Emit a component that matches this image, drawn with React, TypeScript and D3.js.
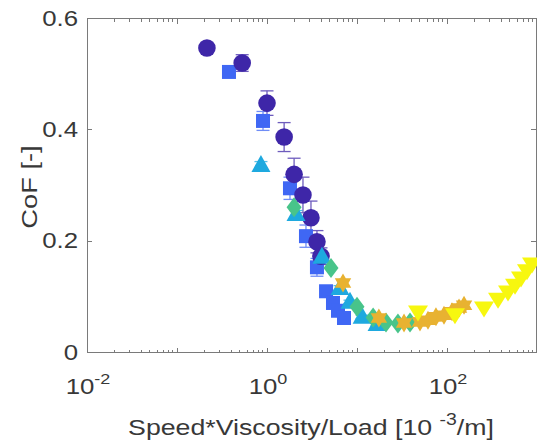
import React from "react";
import * as d3 from "d3";

// ---- data ----
const circleX = [0.215, 0.53, 1.0, 1.55, 2.0, 2.51, 3.08, 3.59, 3.98];
const circleY = [0.547, 0.52, 0.448, 0.387, 0.32, 0.283, 0.242, 0.199, 0.173];
const circleErr = [0, 0.015, 0.022, 0.026, 0.029, 0.032, 0.03, 0.02, 0.015];

const squareX = [0.378, 0.903, 1.8, 2.71, 3.59, 4.53, 5.41, 6.15, 7.17];
const squareY = [0.504, 0.416, 0.295, 0.209, 0.153, 0.11, 0.089, 0.075, 0.062];
const squareErr = [0, 0.017, 0.02, 0.02, 0.016, 0.005, 0.005, 0.004, 0.004];

const triX = [0.857, 2.1, 4.08, 6.47, 8.36, 11.4, 16.7];
const triY = [0.337, 0.249, 0.172, 0.116, 0.091, 0.064, 0.051];
const triErr = [0.006, 0.006, 0.005, 0.004, 0.003, 0.003, 0.002];

const diaX = [2.0, 5.14, 10, 15.1, 21.0, 28.5, 38.8];
const diaY = [0.261, 0.152, 0.082, 0.063, 0.054, 0.052, 0.054];

const hexX = [6.99, 17.5, 33.3, 50.1, 61.5, 75.4, 92.6, 113.6, 136, 154.6];
const hexY = [0.125, 0.062, 0.053, 0.055, 0.058, 0.064, 0.067, 0.073, 0.08, 0.085];

const yelX = [47.6, 122.7, 257.7, 368.7, 476, 570, 664, 774, 880];
const yelY = [0.071, 0.066, 0.078, 0.094, 0.107, 0.119, 0.132, 0.145, 0.157];

const yTicks = [0, 0.2, 0.4, 0.6];
const yTickLabels = ["0", "0.2", "0.4", "0.6"];
const xTicks = [0.01, 1, 100];
const xTickExps = ["-2", "0", "2"];

const xLabelMain = "Speed*Viscosity/Load [10 ";
const xLabelSup = "-3";
const xLabelEnd = "/m]";
const yLabel = "CoF [-]";

// ---- layout ----
const W = 537;
const H = 443;
const L = 87;
const R = 537;
const T = 18.5;
const B = 352.5;

const FONT = "'Liberation Sans', Arial, Helvetica, sans-serif";
const TXT = "#383838";
const AX = "#7a7a7a";
const SX = 1.2; // horizontal stretch of the reference's lettering

const x = d3.scaleLog().domain([0.01, 1000]).range([L, R]);
const y = d3.scaleLinear().domain([0, 0.6]).range([B, T]);

const C_CIRC = "#3E26A8";
const C_SQ = "#3F67F4";
const C_TRI = "#1EA9DF";
const C_DIA = "#48C48A";
const C_HEX = "#E8B231";
const C_YEL = "#F7F70F";

function hexPath(r: number) {
  const pts: string[] = [];
  const ri = r * 0.58;
  for (let i = 0; i < 12; i++) {
    const a = (Math.PI / 6) * i - Math.PI / 2;
    const rr = i % 2 === 0 ? r : ri;
    pts.push(`${(rr * Math.cos(a)).toFixed(2)},${(rr * Math.sin(a)).toFixed(2)}`);
  }
  return "M" + pts.join("L") + "Z";
}

function ErrBars({ xs, ys, es, color }: { xs: number[]; ys: number[]; es: number[]; color: string }) {
  const cap = 6.5;
  return (
    <g stroke={color} strokeWidth={1.3} fill="none" opacity={0.75}>
      {xs.map((xv, i) => {
        if (!es[i]) return null;
        const cx = x(xv);
        const y1 = y(ys[i] + es[i]);
        const y2 = y(ys[i] - es[i]);
        return (
          <g key={i}>
            <line x1={cx} x2={cx} y1={y1} y2={y2} />
            <line x1={cx - cap} x2={cx + cap} y1={y1} y2={y1} />
            <line x1={cx - cap} x2={cx + cap} y1={y2} y2={y2} />
          </g>
        );
      })}
    </g>
  );
}

export default function App() {
  const minorX: number[] = [];
  for (let e = -2; e < 3; e++) {
    for (let k = 2; k <= 9; k++) minorX.push(k * Math.pow(10, e));
  }
  const hex = hexPath(9.5);
  const majLen = 5;
  const minLen = 3;

  return (
    <svg
      width={W}
      height={H}
      style={{ position: "fixed", left: 0, top: 0, background: "#fff" }}
      xmlns="http://www.w3.org/2000/svg"
    >
      <rect x={0} y={0} width={W} height={H} fill="#fff" />

      {/* axes box */}
      <g stroke={AX} strokeWidth={1} fill="none" shapeRendering="crispEdges">
        <line x1={L} x2={R} y1={B} y2={B} />
        <line x1={L} x2={R} y1={T} y2={T} />
        <line x1={L} x2={L} y1={T} y2={B} />
        <line x1={R - 1} x2={R - 1} y1={T} y2={B} />
        {yTicks.map((t, i) => (
          <g key={"yt" + i}>
            <line x1={L} x2={L + majLen} y1={y(t)} y2={y(t)} />
            <line x1={R - 1} x2={R - 1 - majLen} y1={y(t)} y2={y(t)} />
          </g>
        ))}
        {[0.01, 0.1, 1, 10, 100, 1000].map((t, i) => (
          <g key={"xt" + i}>
            <line x1={x(t)} x2={x(t)} y1={B} y2={B - majLen} />
            <line x1={x(t)} x2={x(t)} y1={T} y2={T + majLen} />
          </g>
        ))}
        {minorX.map((t, i) => (
          <g key={"xm" + i}>
            <line x1={x(t)} x2={x(t)} y1={B} y2={B - minLen} />
            <line x1={x(t)} x2={x(t)} y1={T} y2={T + minLen} />
          </g>
        ))}
      </g>

      {/* tick labels */}
      <g fontFamily={FONT} fill={TXT} fontSize={21.5}>
        {yTicks.map((t, i) => (
          <g key={"yl" + i} transform={`translate(${L - 9},${y(t)}) scale(${SX},1)`}>
            <text x={0} y={0} textAnchor="end" dominantBaseline="central">
              {yTickLabels[i]}
            </text>
          </g>
        ))}
        {xTicks.map((t, i) => (
          <g key={"xl" + i} transform={`translate(${x(t) + 1},394) scale(${SX},1)`}>
            <text x={0} y={0} textAnchor="middle">
              10
              <tspan fontSize={15} dy={-10}>
                {xTickExps[i]}
              </tspan>
            </text>
          </g>
        ))}
      </g>

      {/* axis labels */}
      <g transform={`translate(${(L + R) / 2 - 1},435) scale(1.215,1)`}>
        <text fontFamily={FONT} fill={TXT} fontSize={22} x={0} y={0} textAnchor="middle">
          {xLabelMain}
          <tspan fontSize={16} dy={-10}>
            {xLabelSup}
          </tspan>
          <tspan dy={10}>{xLabelEnd}</tspan>
        </text>
      </g>
      <g transform={`translate(37, ${(T + B) / 2 + 1.5}) rotate(-90) scale(1.24,1)`}>
        <text fontFamily={FONT} fill={TXT} fontSize={22} x={0} y={0} textAnchor="middle">
          {yLabel}
        </text>
      </g>

      {/* error bars */}
      <ErrBars xs={squareX} ys={squareY} es={squareErr} color={C_SQ} />
      <ErrBars xs={circleX} ys={circleY} es={circleErr} color={C_CIRC} />
      <ErrBars xs={triX} ys={triY} es={triErr} color={C_TRI} />

      {/* squares */}
      <g fill={C_SQ}>
        {squareX.map((xv, i) => (
          <rect key={i} x={x(xv) - 7} y={y(squareY[i]) - 7} width={14} height={14} />
        ))}
      </g>
      {/* circles */}
      <g fill={C_CIRC}>
        {circleX.map((xv, i) => (
          <circle key={i} cx={x(xv)} cy={y(circleY[i])} r={8.8} />
        ))}
      </g>
      {/* triangles up */}
      <g fill={C_TRI}>
        {triX.map((xv, i) => {
          const cx = x(xv);
          const cy = y(triY[i]);
          return <path key={i} d={`M${cx},${cy - 10}L${cx + 9.5},${cy + 7}L${cx - 9.5},${cy + 7}Z`} />;
        })}
      </g>
      {/* diamonds */}
      <g fill={C_DIA}>
        {diaX.map((xv, i) => {
          const cx = x(xv);
          const cy = y(diaY[i]);
          return <path key={i} d={`M${cx},${cy - 10}L${cx + 7.5},${cy}L${cx},${cy + 10}L${cx - 7.5},${cy}Z`} />;
        })}
      </g>
      {/* hexagrams */}
      <g fill={C_HEX}>
        {hexX.map((xv, i) => (
          <path key={i} d={hex} transform={`translate(${x(xv)},${y(hexY[i])})`} />
        ))}
      </g>
      {/* triangles down */}
      <g fill={C_YEL}>
        {yelX.map((xv, i) => {
          const cx = x(xv);
          const cy = y(yelY[i]);
          return <path key={i} d={`M${cx - 10},${cy - 7.5}L${cx + 10},${cy - 7.5}L${cx},${cy + 8.5}Z`} />;
        })}
      </g>
    </svg>
  );
}
